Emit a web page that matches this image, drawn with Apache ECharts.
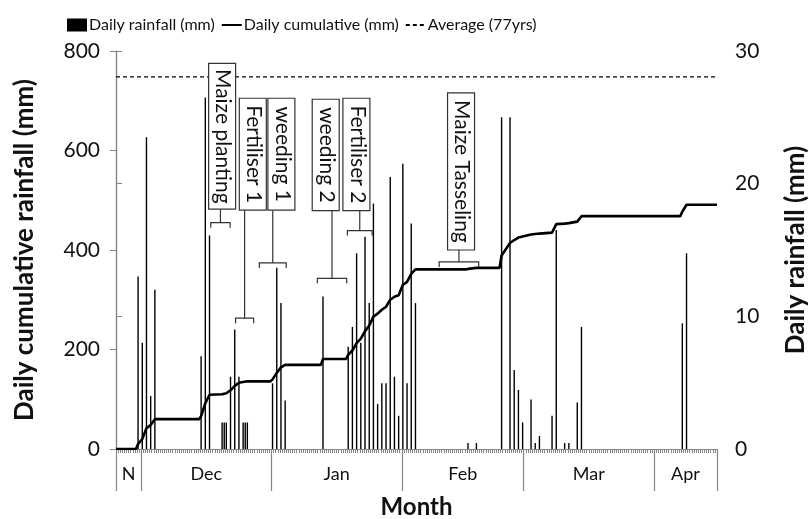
<!DOCTYPE html>
<html><head><meta charset="utf-8">
<script src="https://cdn.jsdelivr.net/npm/echarts@6/dist/echarts.min.js"></script>
<style>html,body{margin:0;padding:0;background:#fff}#c{width:809px;height:519px}</style>
</head><body><div id="c"></div>
<script>
// x axis: half-day slots from 25 Nov to mid April (slot s is centred at s + 0.5)
const slotCount = 286;
const monthNames = ['N', 'Dec', 'Jan', 'Feb', 'Mar', 'Apr'];
const monthStarts = [0, 12, 74, 136, 194, 256, 286];
const leftTicks = [0, 200, 400, 600, 800];
const rightTicks = [0, 10, 20, 30];

// daily rainfall bars (mm, right axis)
const rainSlots = [10, 12, 14, 16, 18, 40, 42, 44, 50, 51, 52, 54, 56, 58, 60, 61, 62,
  74, 76, 78, 80, 98,
  110, 112, 114, 116, 118, 120, 122, 124, 126, 128, 130, 132, 134, 136, 138, 140, 142,
  167, 171, 183, 187, 189, 191, 193, 197, 199, 201, 207, 209, 213, 215, 219, 221, 269, 271];
const rainValues = [13.0, 8.0, 23.5, 4.0, 12.0, 7.0, 26.5, 16.1, 2.0, 2.0, 2.0, 5.45, 9.0, 5.45, 2.0, 2.0, 2.0,
  4.95, 13.66, 11.0, 3.65, 11.5,
  7.7, 9.2, 14.75, 8.0, 16.0, 11.0, 18.5, 3.4, 4.95, 4.95, 20.5, 5.45, 2.5, 21.5, 4.95, 17.0, 11.0,
  0.45, 0.45, 25.0, 25.0, 5.95, 4.45, 2.0, 3.74, 0.45, 0.98, 2.5, 16.5, 0.45, 0.45, 3.5, 9.2, 9.47, 14.75];

// daily cumulative line (mm, left axis), x in slot units
const cumX = [0, 9.5, 10.5, 12.5, 14.5, 16.5, 18.5, 39.5, 40.5, 42.5, 44.5, 50.5, 52.5, 54.5, 56.5, 58.5, 62.5,
  73.5, 74.5, 76.5, 78.5, 80.5, 97.5, 98.5, 109.5,
  110.5, 112.5, 114.5, 116.5, 118.5, 120.5, 122.5, 124.5, 126.5, 128.5, 130.5, 132.5, 134.5, 136.5, 138.5, 140.5, 142.5,
  166.5, 167.5, 171.5, 182.5, 183.5, 187.5, 189.5, 191.5, 193.5, 197.5, 199.5, 201.5, 207.5, 209.5, 213.5, 215.5,
  219.5, 221.5, 268.5, 269.5, 271.5, 286];
const cumValues = [0, 0, 10, 20, 42, 48, 60, 60, 66, 92, 109, 110, 112, 118, 127, 133, 136,
  136, 140, 153, 164, 169, 169, 181, 181,
  189, 198, 213, 222, 237, 248, 266, 272, 280, 286, 300, 306, 309, 330, 336, 352, 361,
  361, 362, 364, 364, 389, 414, 420, 425, 427, 431, 432, 433, 435, 452, 453, 454,
  457, 468, 468, 477, 491, 491];

const averageValue = 748;

// field events: bracket from start to end slot, drawn at a level of the left axis
const eventNames = ['Maize planting', 'Fertiliser 1', 'weeding 1', 'weeding 2', 'Fertiliser 2', 'Maize Tasseling'];
const eventStart = [45.1, 56.9, 68.2, 95.8, 110.1, 153.8];
const eventEnd = [54.3, 65.5, 81.0, 109.8, 121.9, 172.6];
const eventLevel = [455, 263, 374, 343, 439, 376];

// label box layout (slot centre, top and bottom on left axis)
const boxLayout = [
  {cx: 50.5, top: 775, bottom: 482},
  {cx: 65.1, top: 705, bottom: 480},
  {cx: 78.7, top: 705, bottom: 480},
  {cx: 99.8, top: 703, bottom: 479},
  {cx: 114.4, top: 705, bottom: 479},
  {cx: 164.2, top: 716, bottom: 400}
];

const FONT = 'Lato, "Open Sans", sans-serif';
const AX = '#868686';
const TXT = '#111';

const monthMids = monthNames.map((m, i) => (monthStarts[i] + monthStarts[i + 1]) / 2);
const slotBounds = Array.from({length: slotCount + 1}, (_, i) => i);

const chart = echarts.init(document.getElementById('c'), null, {renderer: 'canvas'});
chart.setOption({
  animation: false,
  textStyle: {fontFamily: FONT, color: TXT},
  grid: {left: 116, right: 92, top: 51, bottom: 70, containLabel: false, outerBoundsMode: 'none'},
  legend: {
    left: 62, top: 12, itemGap: 6, itemWidth: 20, itemHeight: 13,
    textStyle: {fontSize: 16, color: TXT, fontFamily: FONT, padding: [0, 0, 0, -3]},
    data: [
      {name: 'Daily rainfall (mm)', icon: 'rect'},
      {name: 'Daily cumulative (mm)', itemStyle: {opacity: 0}},
      {name: 'Average (77yrs)', itemStyle: {opacity: 0}}
    ]
  },
  xAxis: [{
    type: 'value', min: 0, max: slotCount, position: 'bottom',
    axisLine: {show: true, onZero: false, lineStyle: {color: AX, width: 1.2}},
    axisTick: {show: true, customValues: slotBounds, length: 4, lineStyle: {color: AX, width: 1}},
    axisLabel: {show: false}, splitLine: {show: false},
    name: 'Month', nameLocation: 'middle', nameGap: 46,
    nameTextStyle: {fontSize: 24, fontWeight: 'bold', color: TXT, fontFamily: FONT}
  }, {
    type: 'value', min: 0, max: slotCount, position: 'bottom',
    axisLine: {show: false},
    axisTick: {show: true, customValues: monthStarts, length: 42, lineStyle: {color: AX, width: 1.2}},
    axisLabel: {show: true, customValues: monthMids, margin: 16, fontSize: 18, color: TXT, fontFamily: FONT,
      formatter: v => monthNames[monthMids.indexOf(v)] || ''},
    splitLine: {show: false}
  }],
  yAxis: [{
    type: 'value', min: 0, max: 800, interval: 200, position: 'left',
    axisLine: {show: true, lineStyle: {color: AX, width: 1.2}},
    axisTick: {show: true, length: 6, lineStyle: {color: AX}},
    axisLabel: {fontSize: 21, margin: 16, color: TXT, fontFamily: FONT,
      formatter: v => leftTicks.includes(v) ? String(v) : ''},
    splitLine: {show: false},
    name: 'Daily cumulative rainfall (mm)', nameLocation: 'middle', nameGap: 78, nameRotate: 90,
    nameTextStyle: {fontSize: 26, fontWeight: 'bold', color: TXT, fontFamily: FONT}
  }, {
    type: 'value', min: 0, max: 30, interval: 10, position: 'right',
    axisLine: {show: true, lineStyle: {color: AX, width: 1.2}},
    axisTick: {show: true, length: 6, lineStyle: {color: AX}},
    axisLabel: {fontSize: 21, margin: 18, color: TXT, fontFamily: FONT,
      formatter: v => rightTicks.includes(v) ? String(v) : ''},
    splitLine: {show: false},
    name: 'Daily rainfall (mm)', nameLocation: 'middle', nameGap: 66, nameRotate: 90,
    nameTextStyle: {fontSize: 26, fontWeight: 'bold', color: TXT, fontFamily: FONT}
  }],
  series: [{
    name: 'Daily rainfall (mm)', type: 'bar', xAxisIndex: 0, yAxisIndex: 1, barWidth: 1.4,
    itemStyle: {color: '#000'},
    data: rainSlots.map((s, i) => [s + 0.5, rainValues[i]])
  }, {
    name: 'Daily cumulative (mm)', type: 'line', xAxisIndex: 0, yAxisIndex: 0,
    symbol: 'none', lineStyle: {color: '#000', width: 2.6}, itemStyle: {color: '#000'},
    data: cumX.map((x, i) => [x, cumValues[i]]), z: 3
  }, {
    name: 'Average (77yrs)', type: 'line', xAxisIndex: 0, yAxisIndex: 0,
    symbol: 'none', lineStyle: {color: '#000', width: 1.3, type: [4, 3]}, itemStyle: {color: '#000'},
    data: [[0, averageValue], [slotCount, averageValue]], z: 2
  }, {
    type: 'custom', xAxisIndex: 0, yAxisIndex: 0, clip: false, z: 5, silent: true,
    data: eventNames.map((n, i) => [eventStart[i], eventLevel[i], eventEnd[i], i]),
    encode: {x: [0, 2], y: 1},
    renderItem: function (params, api) {
      const i = api.value(3);
      const p1 = api.coord([api.value(0), api.value(1)]);
      const p2 = api.coord([api.value(2), api.value(1)]);
      const mid = (p1[0] + p2[0]) / 2;
      const L = boxLayout[i];
      const bc = api.coord([L.cx, L.top]);
      const bb = api.coord([L.cx, L.bottom]);
      const w = 27;
      const ls = {stroke: '#333', lineWidth: 1.2, fill: null};
      return {
        type: 'group',
        children: [
          {type: 'polyline', shape: {points: [[p1[0], p1[1] + 5], [p1[0], p1[1]], [p2[0], p2[1]], [p2[0], p2[1] + 5]]}, style: ls},
          {type: 'line', shape: {x1: mid, y1: p1[1], x2: mid, y2: bb[1]}, style: ls},
          {type: 'rect', shape: {x: bc[0] - w / 2, y: bc[1], width: w, height: bb[1] - bc[1]},
            style: {fill: '#fff', stroke: '#333', lineWidth: 1.2}},
          {type: 'text', x: bc[0] + 1, y: (bc[1] + bb[1]) / 2, rotation: -Math.PI / 2,
            style: {text: eventNames[i], fill: TXT, font: '21px ' + FONT, align: 'center', verticalAlign: 'middle'}}
        ]
      };
    }
  }]
});
</script>
</body></html>
